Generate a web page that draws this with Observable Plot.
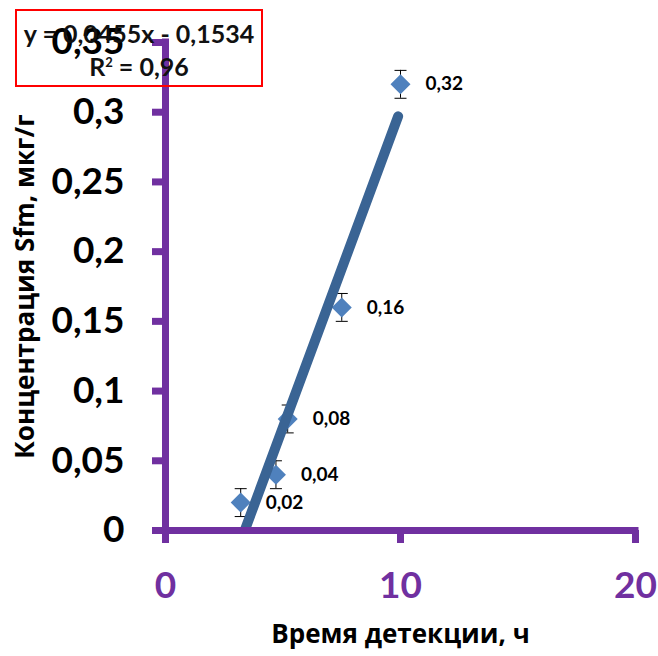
<!DOCTYPE html>
<html><head><meta charset="utf-8">
<script src="https://cdn.jsdelivr.net/npm/d3@7"></script>
<script src="https://cdn.jsdelivr.net/npm/@observablehq/plot@0.6"></script>
<style>
body{margin:0;background:#fff;}
#wrap{position:relative;width:658px;height:656px;font-family:Lato,sans-serif;}
#eq{position:absolute;left:15px;top:9px;width:244px;height:74px;border:2px solid red;font-weight:bold;font-size:25px;text-align:center;color:#111;box-sizing:content-box;}
#eq div{height:33px;line-height:33px;}
#eq .l1{margin-top:6px;}
</style>
</head><body>
<div id="wrap"><div id="chart"></div>
<div id="eq"><div class="l1">y = 0,0455x - 0,1534</div><div>R<sup style="font-size:13px;vertical-align:9px;line-height:0">2</sup> = 0,96</div></div>
</div>
<script>
const times = [3.2, 4.7, 5.2, 7.5, 10];
const concentrations = [0.02, 0.04, 0.08, 0.16, 0.32];
const pointLabels = ["0,02", "0,04", "0,08", "0,16", "0,32"];
const errors = [0.01, 0.01, 0.01, 0.01, 0.01];
const trendSlope = 0.0455, trendIntercept = -0.1534;
const trendXRange = [3.37, 9.9];
const xTicks = [0, 10, 20];
const yTicks = [0, 0.05, 0.1, 0.15, 0.2, 0.25, 0.3, 0.35];
const xTitle = "Время детекции, ч";
const yTitle = "Концентрация Sfm, мкг/г";

const purple = "#7030A0";
const data = times.map((t, i) => ({t, c: concentrations[i], e: errors[i], label: pointLabels[i]}));
const trend = trendXRange.map(x => ({x, y: trendSlope * x + trendIntercept}));
const cap = {draw(ctx, size) { ctx.moveTo(-6, 0); ctx.lineTo(6, 0); }};
const fmt = d => String(d).replace(".", ",");

const chart = Plot.plot({
  width: 658, height: 656,
  marginLeft: 165, marginRight: 23, marginTop: 42, marginBottom: 126,
  x: {domain: [0, 20]},
  y: {domain: [0, 0.35]},
  style: {fontFamily: "Lato, sans-serif", background: "white"},
  marks: [
    Plot.ruleX(data, {x: "t", y1: d => d.c - d.e, y2: d => d.c + d.e, stroke: "black", strokeWidth: 1}),
    Plot.dot(data, {x: "t", y: d => d.c + d.e, symbol: cap, stroke: "black", fill: "none", strokeWidth: 1}),
    Plot.dot(data, {x: "t", y: d => d.c - d.e, symbol: cap, stroke: "black", fill: "none", strokeWidth: 1}),
    Plot.dot(data, {x: "t", y: "c", symbol: "diamond2", r: 9, fill: "#4F81BD", stroke: "none"}),
    Plot.line(trend, {x: "x", y: "y", stroke: "#3A6494", strokeWidth: 10, strokeLinecap: "round", clip: true}),
    Plot.text(data, {x: "t", y: "c", text: "label", dx: 25, textAnchor: "start", fontSize: 19, fontWeight: "bold", fill: "black"}),
    Plot.ruleX([0], {y1: 0, y2: 0.35, stroke: purple, strokeWidth: 7, strokeLinecap: "square"}),
    Plot.ruleY([0], {x1: 0, x2: 20, stroke: purple, strokeWidth: 7, strokeLinecap: "square"}),
    Plot.axisY({ticks: yTicks, tickSize: 13, tickPadding: 28, stroke: purple, strokeWidth: 7, fill: "black", fontSize: 37, fontWeight: "bold", tickFormat: fmt, label: null}),
    Plot.axisX({ticks: xTicks, tickSize: 13, tickPadding: 28, stroke: purple, strokeWidth: 7, fill: purple, fontSize: 37, fontWeight: "bold", tickFormat: fmt, label: null}),
    Plot.text([yTitle], {frameAnchor: "left", dx: -140, rotate: -90, textAnchor: "middle", fontFamily: "Open Sans", fontSize: 26, fontWeight: "bold", fill: "black"}),
    Plot.text([xTitle], {frameAnchor: "bottom", dy: 112, fontFamily: "Open Sans", fontSize: 26, fontWeight: "bold", fill: "black"})
  ]
});
document.getElementById("chart").appendChild(chart);
</script>
</body></html>
